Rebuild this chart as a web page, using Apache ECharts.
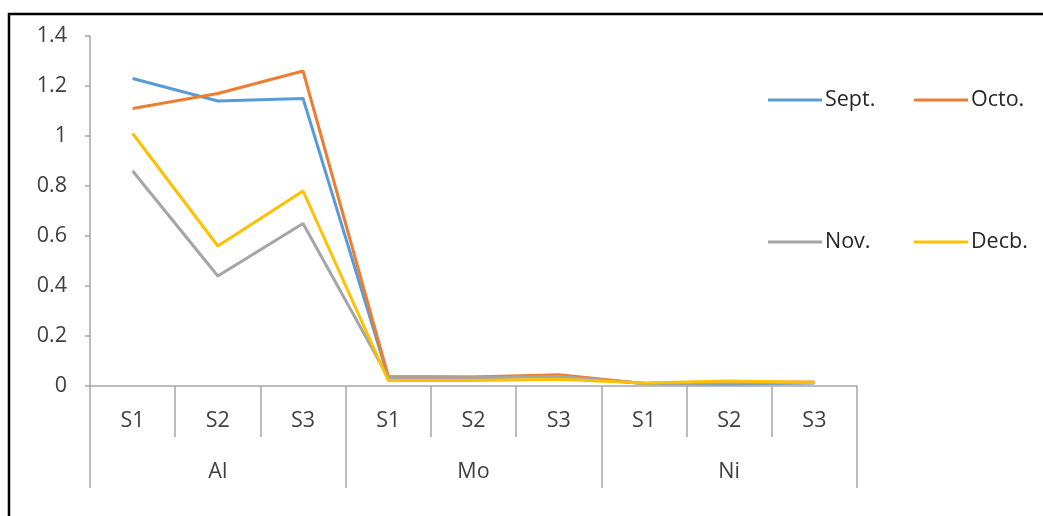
<!DOCTYPE html>
<html>
<head>
<meta charset="utf-8">
<script src="https://cdn.jsdelivr.net/npm/echarts@6/dist/echarts.min.js"></script>
<style>html,body{margin:0;padding:0;background:#fff}#c{width:1043px;height:516px}</style>
</head>
<body>
<div id="c"></div>
<script>
const categories = ['S1','S2','S3','S1','S2','S3','S1','S2','S3'];
const groups = ['Al','Mo','Ni'];
const yTicks = [0, 0.2, 0.4, 0.6, 0.8, 1, 1.2, 1.4];
const sept = [1.23, 1.14, 1.15, 0.035, 0.035, 0.04, 0.01, 0.008, 0.012];
const octo = [1.11, 1.17, 1.26, 0.038, 0.036, 0.045, 0.01, 0.015, 0.016];
const nov  = [0.86, 0.44, 0.65, 0.034, 0.033, 0.038, 0.01, 0.012, 0.013];
const decb = [1.01, 0.56, 0.78, 0.022, 0.022, 0.027, 0.012, 0.02, 0.014];
const seriesNames = ['Sept.','Octo.','Nov.','Decb.'];
const seriesData = [sept, octo, nov, decb];
const colors = ['#5b9bd5','#ed7d31','#a5a5a5','#ffc000'];

const FONT = 'Open Sans';
const FS = 21.5;
const axisGrey = '#a6a6a6';
const chart = echarts.init(document.getElementById('c'));
const legendPos = [[763, 84],[909, 84],[763, 226],[909, 226]];
chart.setOption({
  animation: false,
  color: colors,
  grid: {left: 90, right: 186, top: 36, bottom: 130, containLabel: false},
  legend: seriesNames.map((n, i) => ({
    data: [n], left: legendPos[i][0], top: legendPos[i][1],
    icon: 'rect', itemWidth: 54, itemHeight: 3, itemGap: 4,
    textStyle: {fontFamily: FONT, fontSize: FS, color: '#262626', padding: [0,0,0,-2]}
  })),
  xAxis: [{
    type: 'category', data: categories, position: 'bottom', boundaryGap: true,
    axisLine: {show: true, lineStyle: {color: axisGrey, width: 1.5}},
    axisTick: {show: true, interval: 0, length: 51, lineStyle: {color: axisGrey, width: 1.5}},
    axisLabel: {interval: 0, margin: 24, fontFamily: FONT, fontSize: FS, color: '#404040'},
    splitLine: {show: false}
  },{
    type: 'category', data: groups, position: 'bottom', offset: 51, boundaryGap: true,
    axisLine: {show: false},
    axisTick: {show: true, interval: 0, length: 51, lineStyle: {color: axisGrey, width: 1.5}},
    axisLabel: {interval: 0, margin: 24, fontFamily: FONT, fontSize: FS, color: '#404040'},
    splitLine: {show: false}
  }],
  yAxis: {
    type: 'value', min: yTicks[0], max: yTicks[yTicks.length-1], interval: 0.2,
    axisLine: {show: true, lineStyle: {color: axisGrey, width: 1.5}},
    axisTick: {show: true, length: 5, lineStyle: {color: axisGrey, width: 1.5}},
    axisLabel: {margin: 23, fontFamily: FONT, fontSize: FS, color: '#404040'},
    splitLine: {show: false}
  },
  series: seriesNames.map((n, i) => ({
    name: n, type: 'line', data: seriesData[i], xAxisIndex: 0,
    symbol: 'none', lineStyle: {width: 3, color: colors[i]}, itemStyle: {color: colors[i]}
  })),
  graphic: [{
    type: 'rect', shape: {x: 9, y: 14, width: 1200, height: 700},
    style: {fill: 'none', stroke: '#000', lineWidth: 2.5}, silent: true, z: 100
  }]
});
</script>
</body>
</html>
